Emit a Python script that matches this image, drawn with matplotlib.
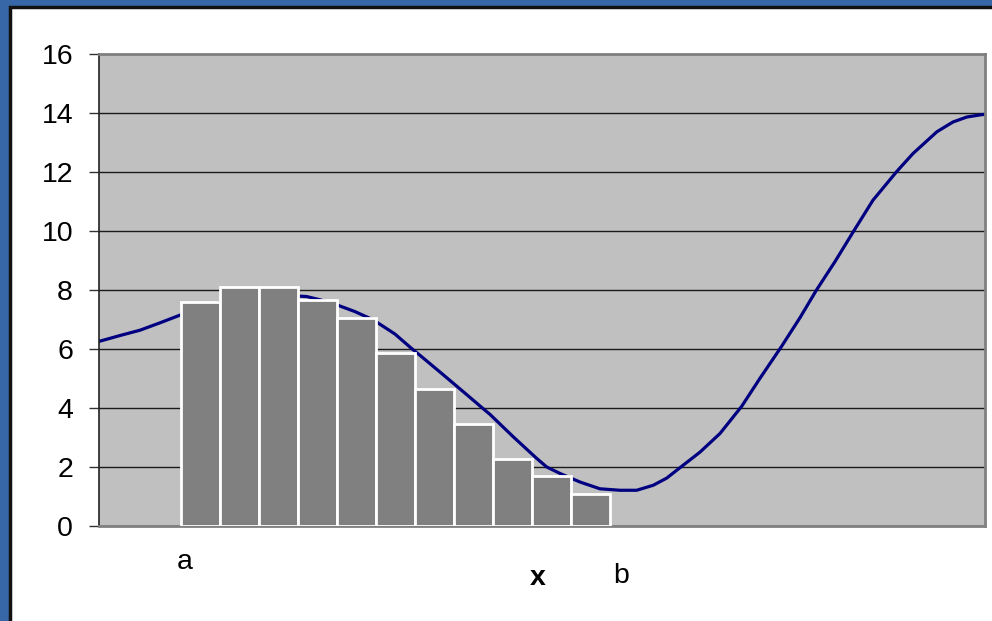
import matplotlib
matplotlib.use("Agg")
import matplotlib.pyplot as plt
from matplotlib.patches import Rectangle

# ---- data ----
curve_x = [0.000, 0.538, 1.051, 1.564, 2.077, 2.590, 3.103, 3.615, 4.128,
           4.641, 5.326, 5.667, 6.095, 6.564, 7.033, 7.590, 8.026, 8.231,
           8.828, 9.428, 9.854, 10.026, 10.623, 11.223, 11.479, 11.821,
           12.333, 12.846, 13.359, 13.787, 14.213, 14.556, 14.923, 15.410,
           15.923, 16.479, 16.949, 17.487, 17.974, 18.403, 18.872, 19.359,
           19.846, 20.454, 20.872, 21.487, 21.897, 22.256, 22.641, 22.720]
curve_y = [6.25, 6.45, 6.63, 6.88, 7.14, 7.38, 7.57, 7.70, 7.79,
           7.82, 7.77, 7.66, 7.49, 7.26, 6.98, 6.50, 6.00, 5.78,
           5.12, 4.45, 3.97, 3.78, 3.02, 2.29, 2.00, 1.78,
           1.49, 1.26, 1.21, 1.21, 1.38, 1.62, 2.00, 2.50,
           3.13, 4.05, 5.00, 6.05, 7.05, 8.00, 8.95, 10.00,
           11.03, 12.00, 12.61, 13.35, 13.68, 13.85, 13.93, 13.94]

bar_left = [2.1, 3.1, 4.1, 5.1, 6.1, 7.1, 8.1, 9.1, 10.1, 11.1, 12.1]
bar_height = [7.57, 8.08, 8.08, 7.64, 7.04, 5.85, 4.65, 3.47, 2.27, 1.68, 1.09]

y_ticks = [0, 2, 4, 6, 8, 10, 12, 14, 16]
x_labels = ["a", "x", "b"]

W, H = 992, 621
fig = plt.figure(figsize=(W / 100, H / 100), dpi=100)
fig.patch.set_facecolor("#3767a6")

# white panel
fig.patches.append(Rectangle((10 / W, -0.02), 1 - 10 / W + 0.02, (H - 7) / H + 0.02,
                             transform=fig.transFigure, facecolor="white",
                             edgecolor="#111111", linewidth=2.5, zorder=-5))

ax = fig.add_axes([99 / W, 95 / H, 886 / W, 472.5 / H])
ax.set_zorder(2)
ax.set_facecolor("#c0c0c0")
ax.set_xlim(0, 22.72)
ax.set_ylim(0, 16)

ax.set_yticks(y_ticks)
ax.set_yticklabels([str(t) for t in y_ticks], fontsize=20.5,
                   fontfamily="Liberation Sans")
ax.tick_params(axis="y", length=7.2, width=1, color="#333333", pad=11.5)
ax.set_xticks([])
ax.yaxis.grid(True, color="#1a1a1a", linewidth=1)
ax.set_axisbelow(True)

for side in ["top", "right"]:
    ax.spines[side].set_color("#808080")
    ax.spines[side].set_linewidth(2)
ax.spines["left"].set_color("#222222")
ax.spines["left"].set_linewidth(1.2)
ax.spines["bottom"].set_color("#808080")
ax.spines["bottom"].set_linewidth(2)

ax.plot(curve_x, curve_y, color="#000080", linewidth=2.3, zorder=2,
        solid_joinstyle="round", solid_capstyle="round")
ax.bar(bar_left, bar_height, width=1.0, align="edge", color="#808080",
       edgecolor="white", linewidth=2, zorder=3)

a_pos = bar_left[0]
b_pos = bar_left[-1] + 1.0
trans = ax.get_xaxis_transform()
ax.text(a_pos + 0.1, -36 / 472.5, x_labels[0], transform=trans,
        ha="center", va="center", fontsize=20.5, fontfamily="Liberation Sans")
ax.text(11.26, -52 / 472.5, x_labels[1], transform=trans, ha="center",
        va="center", fontsize=20.5, fontweight="bold",
        fontfamily="Liberation Sans")
ax.text(b_pos + 0.28, -50 / 472.5, x_labels[2], transform=trans,
        ha="center", va="center", fontsize=20.5, fontfamily="Liberation Sans")

fig.savefig("out.png", dpi=100, facecolor=fig.get_facecolor())
